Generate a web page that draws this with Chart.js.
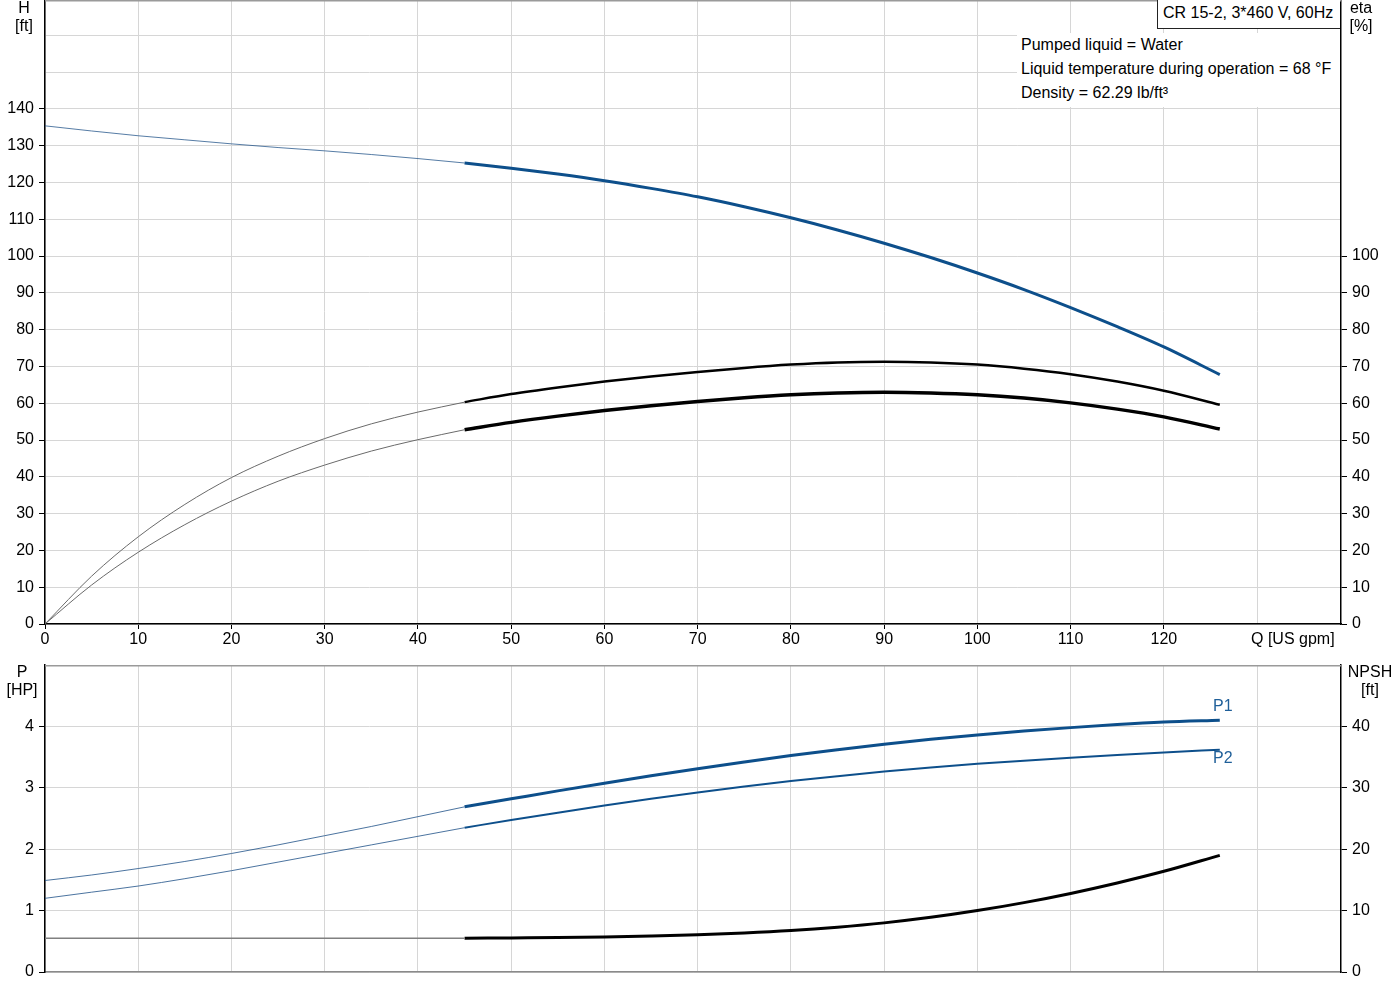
<!DOCTYPE html>
<html>
<head>
<meta charset="utf-8">
<script src="https://cdn.jsdelivr.net/npm/chart.js@4.4.1/dist/chart.umd.min.js"></script>
<style>
  html, body { margin:0; padding:0; background:#fff; }
  body { width:1400px; height:1000px; position:relative; overflow:hidden;
         font-family:"Liberation Sans", Arial, sans-serif; font-size:16px; color:#000; }
  .abs { position:absolute; }
  .unit { position:absolute; text-align:center; line-height:18px; white-space:nowrap; }
  #titleBox { left:1157px; top:-1px; width:183px; height:30px; background:#fff;
              border-left:1px solid #222; border-bottom:1px solid #222;
              line-height:27px; padding-left:5px; box-sizing:border-box; white-space:nowrap; }
  #info { left:1017px; top:33px; width:323px; height:74px; background:#fff;
          line-height:24px; padding-left:4px; box-sizing:border-box; white-space:nowrap; }
  .plabel { position:absolute; color:#1f5f99; line-height:18px; }
  #qlabel { position:absolute; left:1251px; top:630px; line-height:18px; white-space:nowrap; }
</style>
</head>
<body>
<div class="abs" style="left:0;top:0;width:1400px;height:652px;"><canvas id="top" width="1400" height="652"></canvas></div>
<div class="abs" style="left:0;top:652px;width:1400px;height:348px;"><canvas id="bottom" width="1400" height="348"></canvas></div>

<div class="unit" style="left:4px;top:-1px;width:40px;">H<br>[ft]</div>
<div class="unit" style="left:1341px;top:-1px;width:40px;">eta<br>[%]</div>
<div class="unit" style="left:0px;top:663px;width:44px;">P<br>[HP]</div>
<div class="unit" style="left:1342px;top:663px;width:56px;">NPSH<br>[ft]</div>
<div id="titleBox" class="abs">CR 15-2, 3*460 V, 60Hz</div>
<div id="info" class="abs">Pumped liquid = Water<br>Liquid temperature during operation = 68 °F<br>Density = 62.29 lb/ft³</div>
<div id="qlabel">Q [US gpm]</div>
<div class="plabel" style="left:1213px;top:697px;">P1</div>
<div class="plabel" style="left:1213px;top:749px;">P2</div>

<script>
// ---------- data ----------
const qThin = [0, 5, 10, 15, 20, 25, 30, 35, 40, 45];
const qMain = [45, 50, 55, 60, 65, 70, 75, 80, 85, 90, 95, 100, 105, 110, 115, 120, 126];

const headThin = [135.4, 134.0, 132.7, 131.6, 130.5, 129.5, 128.6, 127.6, 126.5, 125.3];
const headMain = [125.3, 123.9, 122.3, 120.5, 118.4, 116.1, 113.4, 110.4, 107.1, 103.5, 99.6, 95.4, 90.9, 86.0, 80.8, 75.3, 67.8];

const etaPumpThin = [0, 13.0, 23.7, 32.5, 39.8, 45.6, 50.4, 54.4, 57.6, 60.3];
const etaPumpMain = [60.3, 62.5, 64.3, 65.9, 67.3, 68.5, 69.6, 70.5, 71.1, 71.3, 71.1, 70.5, 69.4, 67.9, 65.9, 63.4, 59.6];

const etaTotalThin = [0, 10.6, 19.5, 27.0, 33.4, 38.8, 43.2, 47.0, 50.1, 52.8];
const etaTotalMain = [52.8, 54.8, 56.5, 58.0, 59.3, 60.5, 61.5, 62.3, 62.8, 63.0, 62.8, 62.3, 61.4, 60.1, 58.4, 56.3, 53.0];

const p1Thin = [1.49, 1.58, 1.685, 1.80, 1.93, 2.07, 2.22, 2.37, 2.53, 2.69];
const p1Main = [2.69, 2.82, 2.95, 3.075, 3.195, 3.31, 3.42, 3.525, 3.62, 3.71, 3.79, 3.86, 3.925, 3.98, 4.03, 4.07, 4.10];

const p2Thin = [1.20, 1.30, 1.40, 1.52, 1.65, 1.79, 1.93, 2.07, 2.21, 2.35];
const p2Main = [2.35, 2.475, 2.595, 2.71, 2.82, 2.925, 3.02, 3.11, 3.19, 3.265, 3.33, 3.39, 3.44, 3.49, 3.535, 3.575, 3.62];

const npshThin = [5.5, 5.5, 5.5, 5.5, 5.5, 5.5, 5.5, 5.5, 5.5, 5.5];
const npshMain = [5.5, 5.55, 5.6, 5.7, 5.85, 6.05, 6.35, 6.75, 7.3, 8.0, 8.9, 10.0, 11.3, 12.8, 14.5, 16.4, 19.0];

const qTicks = [0, 10, 20, 30, 40, 50, 60, 70, 80, 90, 100, 110, 120];
const headTickMax = 140;
const etaTickMax = 100;
const pTickMax = 4;
const npshTickMax = 40;

// ---------- helpers ----------
const pts = (xs, ys) => xs.map((x, i) => ({ x: x, y: ys[i] }));
const BLUE = '#0d4f8b';
const GRID = '#d6d6d6';
Chart.defaults.font.family = '"Liberation Sans", Arial, sans-serif';
Chart.defaults.font.size = 16;
Chart.defaults.color = '#000';
Chart.defaults.animation = false;

function line(label, xs, ys, color, width, axis) {
  return { label, data: pts(xs, ys), borderColor: color, borderWidth: width,
           pointRadius: 0, fill: false, yAxisID: axis, xAxisID: 'x',
           cubicInterpolationMode: 'monotone', borderCapStyle: 'butt' };
}

const topBorder = {
  id: 'topBorder',
  afterDraw(chart) {
    const a = chart.chartArea, c = chart.ctx;
    c.save();
    c.strokeStyle = '#9a9a9a'; c.lineWidth = 1.5;
    c.beginPath(); c.moveTo(a.left, a.top + 0.75); c.lineTo(a.right, a.top + 0.75); c.stroke();
    c.restore();
  }
};

function noPad(s) { s.paddingTop = 0; s.paddingBottom = 0; s.paddingLeft = 0; s.paddingRight = 0; }

function xScale(showTicks, borderColor, h) {
  return {
    type: 'linear', position: 'bottom', min: 0, max: 139,
    ticks: {
      display: showTicks, stepSize: 10, includeBounds: false, maxRotation: 0, padding: 1,
      autoSkip: false,
      callback: v => (qTicks.includes(v) ? String(v) : '')
    },
    grid: { color: GRID, lineWidth: 1, drawTicks: showTicks, tickLength: 5,
            tickColor: c => (c.tick && c.tick.value <= 120 ? '#000' : 'rgba(0,0,0,0)') },
    border: { color: borderColor, width: 1.5 },
    afterFit: s => { s.height = h; noPad(s); }
  };
}

function yScale(pos, max, step, tickMax, w, drawGrid) {
  return {
    type: 'linear', position: pos, min: 0, max: max,
    ticks: { stepSize: step, includeBounds: false, padding: 5, autoSkip: false,
             callback: v => (v <= tickMax ? String(v) : '') },
    grid: { color: GRID, lineWidth: 1, drawOnChartArea: drawGrid, tickLength: 6,
            tickColor: c => (c.tick && c.tick.value <= tickMax ? '#000' : 'rgba(0,0,0,0)') },
    border: { color: '#000', width: 1.5 },
    afterFit: s => { s.width = w; noPad(s); }
  };
}

// ---------- top chart: head & efficiency ----------
new Chart(document.getElementById('top'), {
  type: 'line',
  data: { datasets: [
    line('H thin', qThin, headThin, 'rgba(30,80,135,0.75)', 1, 'y'),
    line('H', qMain, headMain, BLUE, 3, 'y'),
    line('eta pump thin', qThin, etaPumpThin, '#6a6a6a', 1, 'y2'),
    line('eta pump', qMain, etaPumpMain, '#000', 2.5, 'y2'),
    line('eta total thin', qThin, etaTotalThin, '#6a6a6a', 1, 'y2'),
    line('eta total', qMain, etaTotalMain, '#000', 3.5, 'y2')
  ]},
  options: {
    responsive: false, devicePixelRatio: 1,
    layout: { padding: { top: 0, left: 0, right: 0, bottom: 0 } },
    plugins: { legend: { display: false }, tooltip: { enabled: false } },
    scales: {
      x: xScale(true, '#000', 28),
      y: yScale('left', 169.6, 10, headTickMax, 45, true),
      y2: yScale('right', 169.6, 10, etaTickMax, 59, false)
    }
  },
  plugins: [topBorder]
});

// ---------- bottom chart: power & NPSH ----------
new Chart(document.getElementById('bottom'), {
  type: 'line',
  data: { datasets: [
    line('P1 thin', qThin, p1Thin, 'rgba(30,80,135,0.8)', 1, 'y'),
    line('P1', qMain, p1Main, BLUE, 3, 'y'),
    line('P2 thin', qThin, p2Thin, 'rgba(30,80,135,0.8)', 1, 'y'),
    line('P2', qMain, p2Main, BLUE, 2, 'y'),
    line('NPSH thin', qThin, npshThin, '#808080', 1.5, 'y2'),
    line('NPSH', qMain, npshMain, '#000', 3, 'y2')
  ]},
  options: {
    responsive: false, devicePixelRatio: 1,
    layout: { padding: { top: 13, left: 0, right: 0, bottom: 0 } },
    plugins: { legend: { display: false }, tooltip: { enabled: false } },
    scales: {
      x: xScale(false, '#8a8a8a', 28),
      y: yScale('left', 5, 1, pTickMax, 45, true),
      y2: yScale('right', 50, 10, npshTickMax, 59, false)
    }
  },
  plugins: [topBorder]
});
</script>
</body>
</html>
